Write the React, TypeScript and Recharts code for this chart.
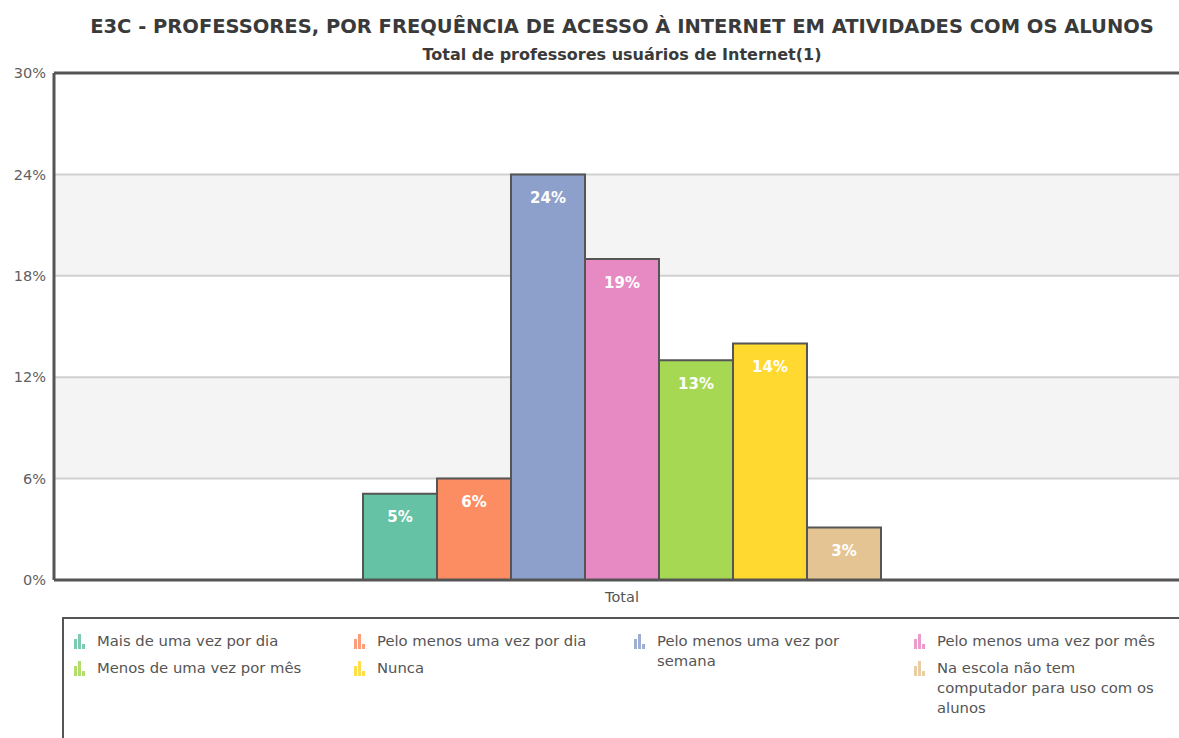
import { BarChart, Bar, XAxis, YAxis, CartesianGrid, LabelList, ReferenceLine } from 'recharts'

// ── Data ──────────────────────────────────────────────────────────────────────
const CATEGORIES = ['Total']

const SERIES_NAMES = [
  'Mais de uma vez por dia',
  'Pelo menos uma vez por dia',
  'Pelo menos uma vez por semana',
  'Pelo menos uma vez por mês',
  'Menos de uma vez por mês',
  'Nunca',
  'Na escola não tem computador para uso com os alunos',
]

const SERIES_VALUES = [5.1, 6.0, 24.0, 19.0, 13.0, 14.0, 3.1]

const Y_TICKS = [0, 6, 12, 18, 24, 30]

const TITLE = 'E3C - PROFESSORES, POR FREQUÊNCIA DE ACESSO À INTERNET EM ATIVIDADES COM OS ALUNOS'
const SUBTITLE = 'Total de professores usuários de Internet(1)'

// ── Style ─────────────────────────────────────────────────────────────────────
const COLORS = ['#66c2a5', '#fc8d62', '#8da0cb', '#e78ac3', '#a6d854', '#ffd92f', '#e5c494']
const FONT = '"DejaVu Sans", Verdana, sans-serif'
const DARK = '#555555'

// legend columns (series indices per column)
const LEGEND_COLS = [[0, 4], [1, 5], [2], [3, 6]]

const rows = CATEGORIES.map((c) => {
  const r: Record<string, string | number> = { name: c }
  SERIES_NAMES.forEach((s, i) => { r['s' + i] = SERIES_VALUES[i] })
  return r
})

function LegendIcon({ color }: { color: string }) {
  return (
    <svg width={16} height={16} style={{ flexShrink: 0, marginTop: 2 }}>
      <rect x={1} y={6} width={3} height={10} fill={color} opacity={0.85} />
      <rect x={5} y={1} width={3} height={15} fill={color} opacity={0.85} />
      <rect x={9} y={11} width={3} height={5} fill={color} opacity={0.85} />
    </svg>
  )
}

export default function App() {
  return (
    <div style={{ position: 'fixed', left: 0, top: 0, width: 1179, height: 738, overflow: 'hidden', background: '#fff', fontFamily: FONT }}>
      <div style={{ position: 'absolute', left: 0, top: 15, width: 1244, textAlign: 'center', fontSize: 19.5, fontWeight: 'bold', color: '#3a3a3a' }}>
        {TITLE}
      </div>
      <div style={{ position: 'absolute', left: 0, top: 45, width: 1244, textAlign: 'center', fontSize: 16, fontWeight: 'bold', color: '#3a3a3a' }}>
        {SUBTITLE}
      </div>

      <div style={{ position: 'absolute', left: 0, top: 0 }}>
        <BarChart width={1192} height={612} data={rows} margin={{ top: 73, right: 2, bottom: 2, left: 0 }} barGap={0} barSize={74}>
          <CartesianGrid vertical={false} stroke="#d0d0d0" strokeWidth={2} horizontalFill={['#ffffff', '#f4f4f4']} fillOpacity={1} />
          <XAxis
            dataKey="name"
            height={30}
            tickLine={false}
            tickSize={0}
            tickMargin={12}
            axisLine={{ stroke: DARK, strokeWidth: 3 }}
            tick={{ fill: '#555', fontSize: 14.5, fontFamily: FONT }}
          />
          <YAxis
            width={54}
            domain={[0, 30]}
            ticks={Y_TICKS}
            interval={0}
            tickLine={false}
            tickSize={0}
            tickMargin={8}
            axisLine={{ stroke: DARK, strokeWidth: 3 }}
            tickFormatter={(v) => `${v}%`}
            tick={{ fill: '#606060', fontSize: 14.5, fontFamily: FONT }}
          />
          <ReferenceLine y={30} stroke={DARK} strokeWidth={3} />
          {SERIES_NAMES.map((s, i) => (
            <Bar key={s} dataKey={'s' + i} name={s} fill={COLORS[i]} stroke={DARK} strokeWidth={2} isAnimationActive={false}>
              <LabelList
                dataKey={'s' + i}
                position="insideTop"
                offset={18}
                formatter={(v: number) => `${Math.round(v)}%`}
                style={{ fill: '#ffffff', fontSize: 15, fontWeight: 'bold', fontFamily: FONT }}
              />
            </Bar>
          ))}
        </BarChart>
      </div>

      {/* legend */}
      <div style={{ position: 'absolute', left: 62, top: 617, width: 1140, height: 140, border: `2px solid ${DARK}`, boxSizing: 'border-box', display: 'flex', padding: '12px 0 0 9px' }}>
        {LEGEND_COLS.map((col, ci) => (
          <div key={ci} style={{ width: 280, display: 'flex', flexDirection: 'column', gap: 7 }}>
            {col.map((idx) => (
              <div key={idx} style={{ display: 'flex', gap: 8, alignItems: 'flex-start' }}>
                <LegendIcon color={COLORS[idx]} />
                <span style={{ fontSize: 14.8, lineHeight: '20px', color: '#555', maxWidth: 224 }}>{SERIES_NAMES[idx]}</span>
              </div>
            ))}
          </div>
        ))}
      </div>
    </div>
  )
}
